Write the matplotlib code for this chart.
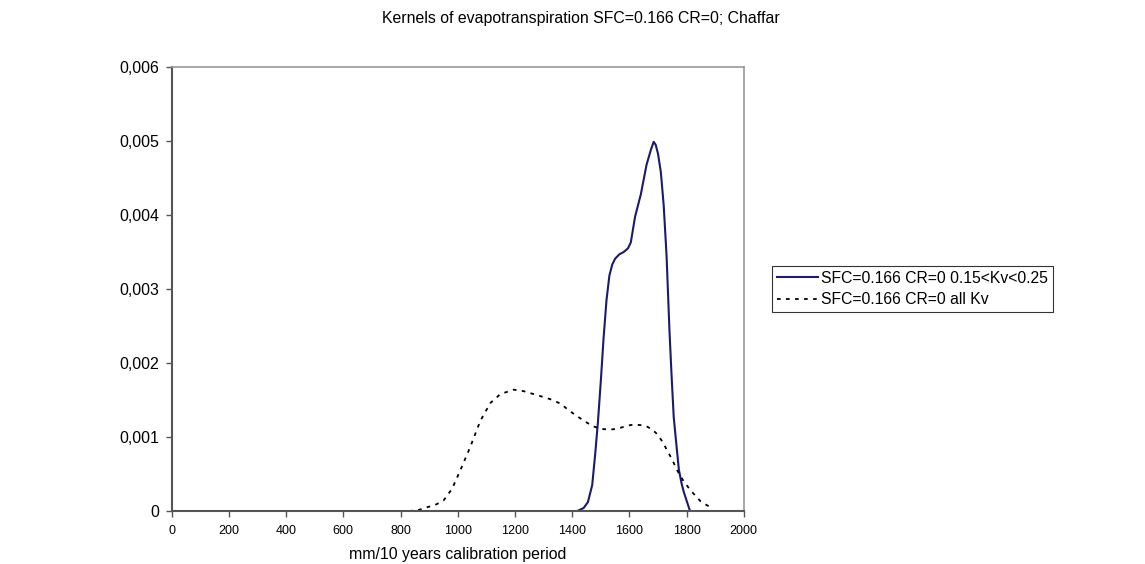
import matplotlib.pyplot as plt

plt.rcParams['font.family'] = ['Liberation Sans', 'DejaVu Sans']

# kernel for 0.15<Kv<0.25
x_kv = [1418, 1440, 1455, 1470, 1480, 1490, 1500, 1510, 1520, 1530, 1540, 1550, 1565,
        1580, 1595, 1605, 1620, 1640, 1660, 1675, 1685, 1692, 1700, 1710, 1720, 1730,
        1740, 1747, 1755, 1765, 1773, 1782, 1790, 1800, 1812]
y_kv = [0, 0.00004, 0.00012, 0.00035, 0.00075, 0.0012, 0.00175, 0.00235, 0.00285, 0.00318,
        0.00333, 0.00341, 0.00347, 0.0035, 0.00355, 0.00363, 0.00398, 0.00428, 0.00468,
        0.00488, 0.00499, 0.00495, 0.00483, 0.00458, 0.00413, 0.00345, 0.00245, 0.00187,
        0.00127, 0.00087, 0.00056, 0.00038, 0.00026, 0.00014, 0]

# kernel for all Kv
x_all = [830, 860, 892, 920, 950, 980, 1009, 1043, 1079, 1114, 1149, 1195, 1230, 1265,
         1300, 1324, 1360, 1382, 1410, 1441, 1470, 1499, 1530, 1557, 1590, 1616, 1640,
         1662, 1680, 1697, 1715, 1732, 1750, 1767, 1790, 1814, 1830, 1849, 1870, 1890]
y_all = [0, 0.00001, 0.00005, 0.00008, 0.00014, 0.0003, 0.00055, 0.00086, 0.00122, 0.00146,
         0.00158, 0.00164, 0.00162, 0.00158, 0.00154, 0.00151, 0.00145, 0.00138, 0.0013,
         0.00122, 0.00115, 0.00111, 0.0011, 0.00111, 0.00115, 0.00117, 0.00116, 0.00114,
         0.0011, 0.00104, 0.00094, 0.00082, 0.00069, 0.00055, 0.0004, 0.00028, 0.00021,
         0.00013, 0.00008, 0.00004]

yticks = [0, 0.001, 0.002, 0.003, 0.004, 0.005, 0.006]
ylabels = ['0', '0,001', '0,002', '0,003', '0,004', '0,005', '0,006']
xticks = [0, 200, 400, 600, 800, 1000, 1200, 1400, 1600, 1800, 2000]

fig = plt.figure(figsize=(11.45, 5.64), dpi=100)

ax = fig.add_axes([0.15, 0.094, 0.4996, 0.787])
ax.plot(x_kv, y_kv, color='#1c1a6e', lw=1.5, label='SFC=0.166 CR=0 0.15<Kv<0.25')
ax.plot(x_all, y_all, color='black', lw=1.3, ls=(0, (2, 3)), label='SFC=0.166 CR=0 all Kv')

ax.set_xlim(0, 2000)
ax.set_ylim(0, 0.006)
ax.set_xticks(xticks)
ax.set_xticklabels([str(v) for v in xticks], fontsize=9)
ax.set_yticks(yticks)
ax.set_yticklabels(ylabels, fontsize=11.5)
ax.tick_params(axis='both', direction='out', length=4, color='#555555', width=1)
ax.tick_params(axis='x', pad=6)
ax.tick_params(axis='y', pad=5)
for s in ['left', 'bottom']:
    ax.spines[s].set_color('#555555')
    ax.spines[s].set_linewidth(1.5)
for s in ['top', 'right']:
    ax.spines[s].set_color('#999999')
    ax.spines[s].set_linewidth(1.2)

ax.set_xlabel('mm/10 years calibration period', fontsize=11.4, labelpad=7)

fig.text(0.507, 0.968, 'Kernels of evapotranspiration SFC=0.166 CR=0; Chaffar',
         ha='center', va='center', fontsize=11.4)

leg = ax.legend(loc='upper left', bbox_to_anchor=(772 / 1145, 1 - 266 / 564),
                bbox_transform=fig.transFigure, borderaxespad=0, fancybox=False,
                edgecolor='black', fontsize=11.3, handlelength=2.6, handletextpad=0.25,
                borderpad=0.3, labelspacing=0.4, handleheight=0.6)
leg.get_frame().set_linewidth(0.8)

fig.savefig('out.png', dpi=100)
